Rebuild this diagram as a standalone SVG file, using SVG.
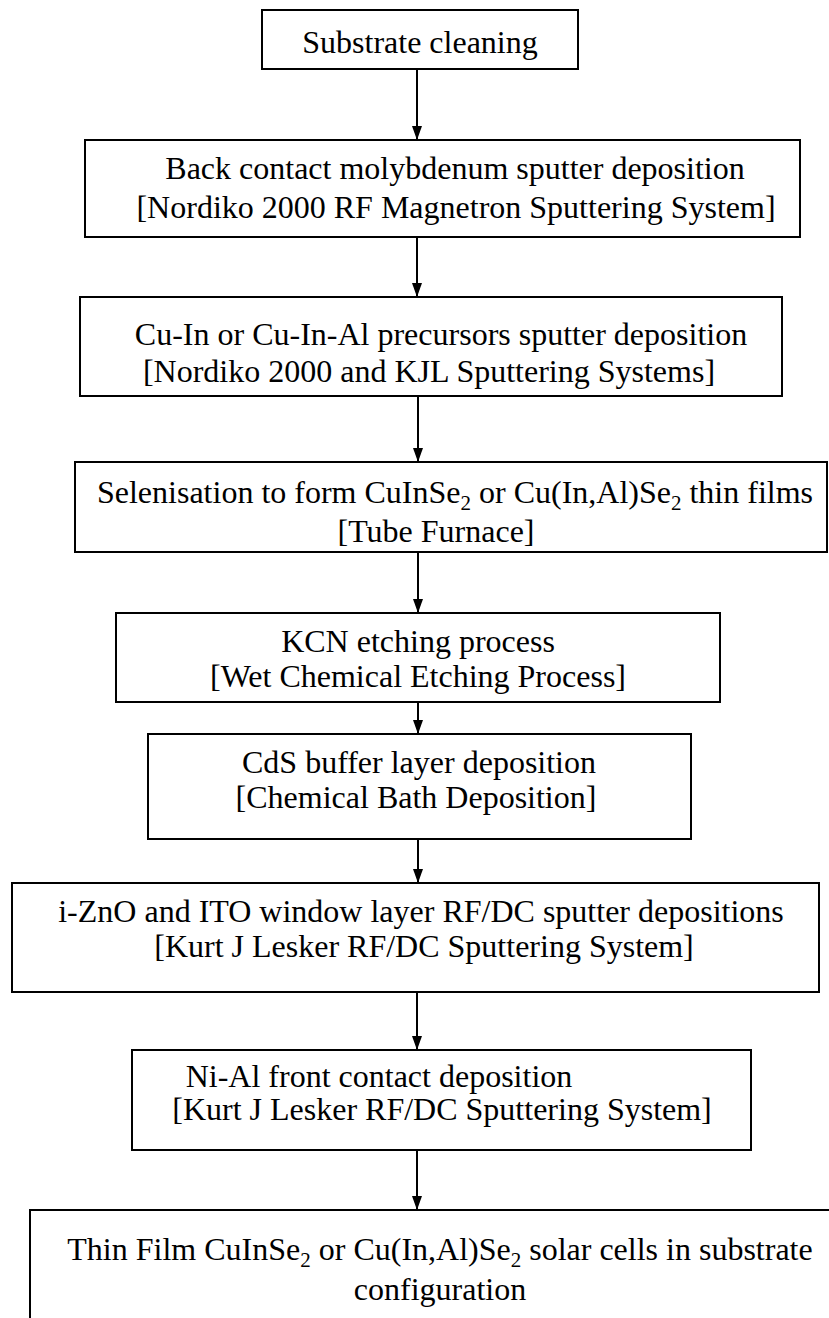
<svg xmlns="http://www.w3.org/2000/svg" width="829" height="1318" viewBox="0 0 829 1318">
<defs>
<style>
.box{fill:#fff;stroke:#000;stroke-width:2}
.t{font-family:"Liberation Serif","Times New Roman",serif;font-size:32px;fill:#000;text-anchor:middle}
.c{stroke:#000;stroke-width:2;fill:none}
</style>
<marker id="ah" markerWidth="14" markerHeight="10" refX="14" refY="5" orient="auto" markerUnits="userSpaceOnUse" viewBox="0 0 14 10">
<path d="M0,0 L14,5 L0,10 Z" fill="#000"/>
</marker>
</defs>
<rect width="829" height="1318" fill="#fff"/>
<g id="n1"><rect class="box" x="262" y="10" width="316" height="59"/><text class="t" x="420" y="53">Substrate cleaning</text></g>
<g id="n2"><rect class="box" x="85" y="140" width="715" height="97"/><text class="t" x="455" y="179">Back contact molybdenum sputter deposition</text><text class="t" x="456" y="218">[Nordiko 2000 RF Magnetron Sputtering System]</text></g>
<g id="n3"><rect class="box" x="80" y="297" width="702" height="99"/><text class="t" x="441" y="345">Cu-In or Cu-In-Al precursors sputter deposition</text><text class="t" x="429" y="382">[Nordiko 2000 and KJL Sputtering Systems]</text></g>
<g id="n4"><rect class="box" x="75" y="462" width="752" height="90"/><text class="t" x="455" y="503">Selenisation to form CuInSe<tspan font-size="21" dy="7">2</tspan><tspan dy="-7"> or Cu(In,Al)Se</tspan><tspan font-size="21" dy="7">2</tspan><tspan dy="-7"> thin films</tspan></text><text class="t" x="436" y="542">[Tube Furnace]</text></g>
<g id="n5"><rect class="box" x="116" y="613" width="604" height="89"/><text class="t" x="418" y="652">KCN etching process</text><text class="t" x="418" y="687">[Wet Chemical Etching Process]</text></g>
<g id="n6"><rect class="box" x="148" y="734" width="543" height="105"/><text class="t" x="419" y="773">CdS buffer layer deposition</text><text class="t" x="416" y="808">[Chemical Bath Deposition]</text></g>
<g id="n7"><rect class="box" x="12" y="883" width="807" height="109"/><text class="t" x="421" y="922">i-ZnO and ITO window layer RF/DC sputter depositions</text><text class="t" x="424" y="957">[Kurt J Lesker RF/DC Sputtering System]</text></g>
<g id="n8"><rect class="box" x="132" y="1050" width="619" height="100"/><text class="t" x="379" y="1087">Ni-Al front contact deposition</text><text class="t" x="442" y="1120">[Kurt J Lesker RF/DC Sputtering System]</text></g>
<g id="n9"><path class="c" d="M829,1210 H30 V1318"/><text class="t" x="440" y="1260">Thin Film CuInSe<tspan font-size="21" dy="7">2</tspan><tspan dy="-7"> or Cu(In,Al)Se</tspan><tspan font-size="21" dy="7">2</tspan><tspan dy="-7"> solar cells in substrate</tspan></text><text class="t" x="440" y="1300">configuration</text></g>
<g id="connectors">
<path class="c" d="M417,69 V140" marker-end="url(#ah)"/>
<path class="c" d="M417,237 V297" marker-end="url(#ah)"/>
<path class="c" d="M418,396 V462" marker-end="url(#ah)"/>
<path class="c" d="M418,552 V613" marker-end="url(#ah)"/>
<path class="c" d="M418,702 V734" marker-end="url(#ah)"/>
<path class="c" d="M418,839 V883" marker-end="url(#ah)"/>
<path class="c" d="M417,992 V1050" marker-end="url(#ah)"/>
<path class="c" d="M417,1150 V1210" marker-end="url(#ah)"/>
</g>
</svg>
